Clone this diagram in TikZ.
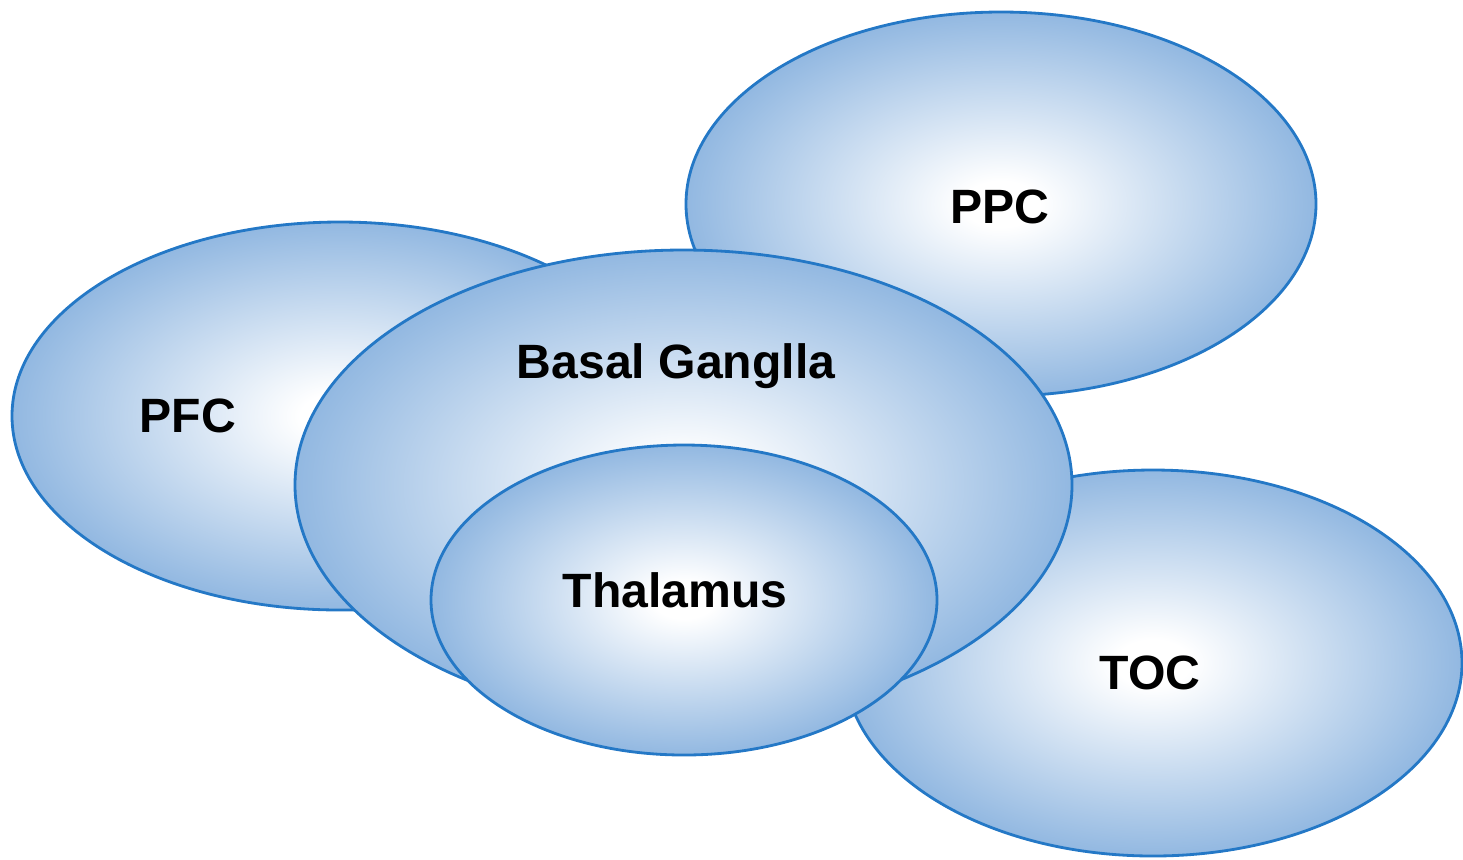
\documentclass[tikz,border=0pt]{standalone}
\usepackage{fontspec}
\setmainfont{Liberation Sans}
\usetikzlibrary{shapes,positioning}

\definecolor{edgeblue}{RGB}{36,120,198}
\definecolor{fillblue}{RGB}{146,184,225}
\pgfdeclareradialshading{blob}{\pgfpoint{0bp}{0bp}}{color(0bp)=(white); color(3bp)=(white); color(25bp)=(fillblue); color(50bp)=(fillblue)}

\tikzset{
  region/.style={ellipse, draw=edgeblue, line width=0.8pt, shading=blob, inner sep=0pt},
  areaname/.style={font=\fontsize{13.7}{16}\selectfont\bfseries}
}

\begin{document}
\begin{tikzpicture}
  \useasboundingbox (0,0) rectangle (14.63,-8.59);

  % areas, back to front
  \node [region, minimum width=6.56cm, minimum height=3.88cm] (PFC) at (3.40,-4.16) {};
  \node [region, minimum width=6.30cm, minimum height=3.84cm] (PPC) at (10.01,-2.04) {};
  \node [region, minimum width=6.18cm, minimum height=3.86cm] (TOC) at (11.53,-6.63) {};
  \node [region, minimum width=7.77cm, minimum height=4.70cm] (BG) at (6.835,-4.85) {};
  \node [region, minimum width=5.06cm, minimum height=3.10cm] (TH) at (6.84,-6.00) {};

  % labels
  \node [areaname] (PFCname) at (1.88,-4.16) {PFC};
  \node [areaname] (PPCname) at (10.00,-2.07) {PPC};
  \node [areaname] (TOCname) at (11.50,-6.73) {TOC};
  \node [areaname] (BGname) at (6.76,-3.66) {Basal Ganglla};
  \node [areaname] (THname) at (6.75,-5.90) {Thalamus};
\end{tikzpicture}
\end{document}
